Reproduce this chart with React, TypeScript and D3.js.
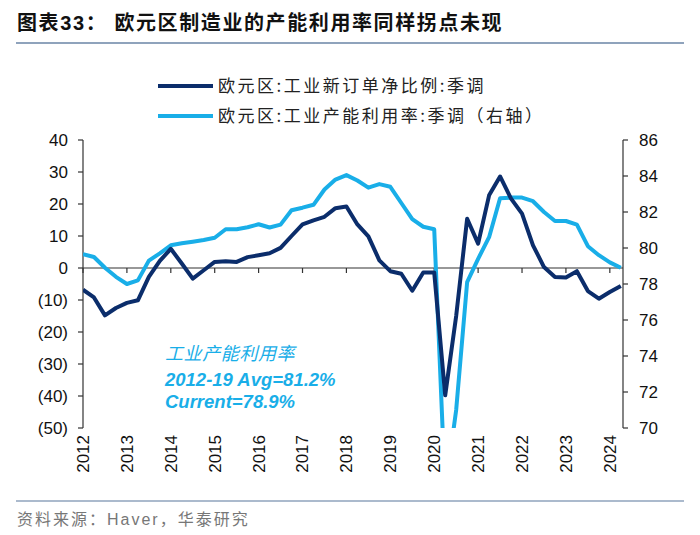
import React from "react";
import * as d3 from "d3";

const newOrders: number[] = [
  -6.8, -9.2, -14.8, -12.5, -10.9, -10.1, -2.8, 2.2, 6.0, 1.4,
  -3.3, -0.7, 1.9, 2.1, 1.9, 3.4, 4.0, 4.6, 6.3, 10.0,
  13.6, 14.9, 16.0, 18.7, 19.2, 13.6, 9.9, 2.4, -1.0, -1.8,
  -7.1, -1.4, -1.4, -39.8, -15.0, 15.4, 7.6, 22.7, 28.6, 21.7,
  17.0, 7.1, 0.3, -2.8, -3.0, -1.0, -7.2, -9.6, -7.5, -5.6,
];
const capUtil: number[] = [
  79.65, 79.5, 78.9, 78.4, 78.0, 78.2, 79.3, 79.7, 80.15, 80.26,
  80.35, 80.44, 80.57, 81.04, 81.04, 81.15, 81.32, 81.14, 81.3, 82.1,
  82.24, 82.4, 83.25, 83.8, 84.05, 83.75, 83.35, 83.55, 83.4, 82.5,
  81.6, 81.18, 81.04, 66.5, 71.0, 78.1, 79.4, 80.6, 82.76, 82.8,
  82.8, 82.6, 82.0, 81.5, 81.5, 81.3, 80.1, 79.6, 79.2, 78.9,
];
const startYear = 2012;
const yearTicks: number[] = [2012, 2013, 2014, 2015, 2016, 2017, 2018, 2019, 2020, 2021, 2022, 2023, 2024];
const leftTicks: number[] = [40, 30, 20, 10, 0, -10, -20, -30, -40, -50];
const rightTicks: number[] = [86, 84, 82, 80, 78, 76, 74, 72, 70];
const seriesNames: string[] = ["欧元区:工业新订单净比例:季调", "欧元区:工业产能利用率:季调（右轴）"];
const title = "图表33： 欧元区制造业的产能利用率同样拐点未现";
const noteLines: string[] = ["工业产能利用率", "2012-19 Avg=81.2%", "Current=78.9%"];
const source = "资料来源：Haver，华泰研究";

const DARK = "#0B2D6B";
const LIGHT = "#19AEE8";
const FONT = "'Liberation Sans', Arial, 'Noto Sans CJK SC', sans-serif";

export default function App() {
  const W = 700, H = 535;
  const left = 83, right = 623, top = 140, bottom = 428;
  const x = d3.scaleLinear().domain([2012, 2024.3]).range([left, right]);
  const yL = d3.scaleLinear().domain([-50, 40]).range([bottom, top]);
  const yR = d3.scaleLinear().domain([70, 86]).range([bottom, top]);
  const t = (i: number) => startYear + i / 4;
  const lineL = d3.line<number>().x((_, i) => x(t(i))).y((d) => yL(d));
  const lineR = d3.line<number>().x((_, i) => x(t(i))).y((d) => yR(d));
  const zeroY = yL(0);
  const fmtL = (v: number) => (v < 0 ? `(${Math.abs(v)})` : `${v}`);

  return (
    <svg width={W} height={H} style={{ position: "absolute", left: 0, top: 0, background: "#fff" }} fontFamily={FONT}>
      <defs>
        <clipPath id="plot">
          <rect x={left} y={top} width={right - left} height={bottom - top} />
        </clipPath>
      </defs>
      <text x={17} y={30} fontSize={20} fontWeight="bold" letterSpacing={1.6} fill="#111" fontFamily="'Liberation Sans', 'Noto Sans CJK SC', sans-serif">{title}</text>
      <line x1={16} x2={684} y1={43} y2={43} stroke="#8FA3BC" strokeWidth={2} />

      {/* legend */}
      <line x1={158} x2={213} y1={86} y2={86} stroke={DARK} strokeWidth={4} />
      <text x={218} y={92} fontSize={17} fill="#222" letterSpacing={2.5} fontFamily="'Noto Sans CJK SC', sans-serif">{seriesNames[0]}</text>
      <line x1={158} x2={213} y1={116} y2={116} stroke={LIGHT} strokeWidth={4} />
      <text x={218} y={122} fontSize={17} fill="#222" letterSpacing={2.5} fontFamily="'Noto Sans CJK SC', sans-serif">{seriesNames[1]}</text>

      {/* left axis */}
      <line x1={left} x2={left} y1={top} y2={bottom} stroke="#333" strokeWidth={1.2} />
      {leftTicks.map((v) => (
        <g key={"l" + v}>
          <line x1={left - 5} x2={left} y1={yL(v)} y2={yL(v)} stroke="#333" strokeWidth={1.2} />
          <text x={68} y={yL(v)} dy="0.35em" textAnchor="end" fontSize={17} fill="#111">{fmtL(v)}</text>
        </g>
      ))}
      {/* right axis */}
      <line x1={right} x2={right} y1={top} y2={bottom} stroke="#333" strokeWidth={1.2} />
      {rightTicks.map((v) => (
        <g key={"r" + v}>
          <line x1={right} x2={right + 5} y1={yR(v)} y2={yR(v)} stroke="#333" strokeWidth={1.2} />
          <text x={639} y={yR(v)} dy="0.35em" textAnchor="start" fontSize={17} fill="#111">{v}</text>
        </g>
      ))}
      {/* x axis at zero */}
      <line x1={left} x2={right} y1={zeroY} y2={zeroY} stroke="#333" strokeWidth={1.2} />
      {yearTicks.map((yr) => (
        <g key={"x" + yr}>
          <line x1={x(yr)} x2={x(yr)} y1={zeroY} y2={zeroY + 5} stroke="#333" strokeWidth={1.2} />
          <text transform={`translate(${x(yr)},${bottom + 7}) rotate(-90)`} dy="0.35em" textAnchor="end" fontSize={17} fill="#111">{yr}</text>
        </g>
      ))}

      <g clipPath="url(#plot)">
        <path d={lineR(capUtil) || ""} fill="none" stroke={LIGHT} strokeWidth={4} strokeLinejoin="round" />
        <path d={lineL(newOrders) || ""} fill="none" stroke={DARK} strokeWidth={4} strokeLinejoin="round" />
      </g>

      {/* annotation */}
      <text x={165} y={360} fontSize={18} fontStyle="italic" fill={LIGHT} letterSpacing={0.6} fontFamily="'Noto Sans CJK SC', sans-serif">{noteLines[0]}</text>
      <text x={165} y={386} fontSize={18.5} fontStyle="italic" fontWeight="bold" fill={LIGHT}>{noteLines[1]}</text>
      <text x={165} y={408} fontSize={18.5} fontStyle="italic" fontWeight="bold" fill={LIGHT}>{noteLines[2]}</text>

      {/* source */}
      <line x1={16} x2={684} y1={501} y2={501} stroke="#8FA3BC" strokeWidth={1.5} />
      <text x={17} y={525} fontSize={16} letterSpacing={2} fill="#777" fontFamily="'Liberation Sans', 'Noto Sans CJK SC', sans-serif">{source}</text>
    </svg>
  );
}
